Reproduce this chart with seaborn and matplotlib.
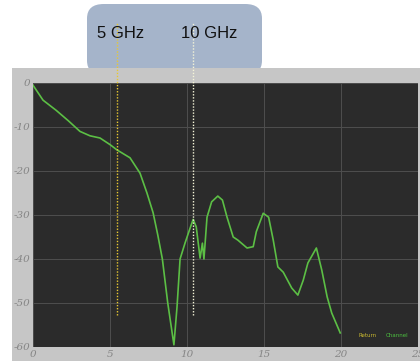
import matplotlib
matplotlib.use("Agg")
import matplotlib.pyplot as plt
from matplotlib.patches import FancyBboxPatch, Rectangle
import seaborn as sns
import pandas as pd

# Data
freq_ghz = [0.0, 0.65, 1.5, 2.3, 3.05, 3.7, 4.35, 5.0, 5.45, 6.3, 6.95, 7.4, 7.8, 8.1, 8.4,
            8.75, 9.15, 9.35, 9.55, 9.87, 10.15, 10.4, 10.6, 10.85, 11.0, 11.1, 11.3,
            11.6, 12.0, 12.3, 12.6, 13.0, 13.3, 13.9, 14.3, 14.5, 14.95, 15.3, 15.6,
            15.9, 16.25, 16.8, 17.2, 17.55, 17.85, 18.4, 18.75, 19.1, 19.4, 19.95]
loss_db = [-0.5, -3.9, -6.2, -8.6, -11.0, -12.0, -12.5, -14.0, -15.2, -17.0, -20.5, -25.0, -29.5, -34.5, -40.0,
           -50.0, -59.5, -51.0, -40.0, -36.4, -33.5, -31.0, -32.7, -39.8, -36.4, -40.0, -30.5,
           -27.0, -25.7, -26.6, -30.5, -35.0, -35.7, -37.5, -37.2, -33.8, -29.6, -30.5, -35.7,
           -41.8, -43.0, -46.6, -48.2, -44.8, -40.9, -37.5, -42.5, -48.6, -52.3, -56.8]
marker_freqs = [5.45, 10.4]
marker_labels = ["5 GHz", "10 GHz"]
marker_colors = ["#e8c832", "#f4f4d8"]
x_ticks = [0, 5, 10, 15, 20, 25]
y_ticks = [0, -10, -20, -30, -40, -50, -60]

df = pd.DataFrame({"freq": freq_ghz, "loss": loss_db})

W, H = 420, 361
fig = plt.figure(figsize=(W / 100, H / 100), dpi=100)
fig.patch.set_facecolor("white")

# Blue rounded label box
box = FancyBboxPatch((87 / W, 1 - 75 / H), 175 / W, 71 / H,
                     boxstyle="round,pad=0,rounding_size=0.04",
                     transform=fig.transFigure, facecolor="#a5b4ca",
                     edgecolor="none", zorder=0)
fig.patches.append(box)
# Gray panel
panel = Rectangle((12 / W, 0), 408 / W, 1 - 68 / H, transform=fig.transFigure,
                  facecolor="#c6c6c6", edgecolor="none", zorder=1)
fig.patches.append(panel)

ax = fig.add_axes([33 / W, 14 / H, 385 / W, 264 / H])
ax.set_facecolor("#2b2b2b")
ax.set_zorder(2)

sns.lineplot(data=df, x="freq", y="loss", ax=ax, color="#5cbf45", lw=1.2, zorder=3)

ax.set_xlim(0, 25)
ax.set_ylim(-60, 0)
ax.set_xticks(x_ticks)
ax.set_yticks(y_ticks)
ax.set_xticklabels([str(t) for t in x_ticks], fontfamily="DejaVu Serif", fontstyle="italic",
                   fontsize=7.5, color="#858585")
ax.set_yticklabels([str(t) for t in y_ticks], fontfamily="DejaVu Serif", fontstyle="italic",
                   fontsize=7.5, color="#858585")
ax.tick_params(length=0, pad=2)
ax.grid(True, color="#4f4f4f", lw=0.7)
ax.set_axisbelow(True)
ax.set_xlabel("")
ax.set_ylabel("")
for s in ax.spines.values():
    s.set_visible(False)

# Marker dotted lines extending above the plot
for f, c in zip(marker_freqs, marker_colors):
    ax.plot([f, f], [-52.7, 13.6], ls=(0, (1, 1.2)), color=c, lw=1.0, clip_on=False, zorder=5)

# Labels in blue box
fig.text(97 / W, 1 - 34 / H, marker_labels[0], fontfamily="Liberation Sans", fontsize=12,
         color="#111111", va="center", ha="left")
fig.text(181 / W, 1 - 34 / H, marker_labels[1], fontfamily="Liberation Sans", fontsize=12,
         color="#111111", va="center", ha="left")

# Small legend
ax.text(0.845, 0.045, "Return", transform=ax.transAxes, fontsize=4, color="#c8b830",
        ha="left", va="center")
ax.text(0.915, 0.045, "Channel", transform=ax.transAxes, fontsize=4, color="#4cc040",
        ha="left", va="center")

fig.savefig("out.png", dpi=100)
